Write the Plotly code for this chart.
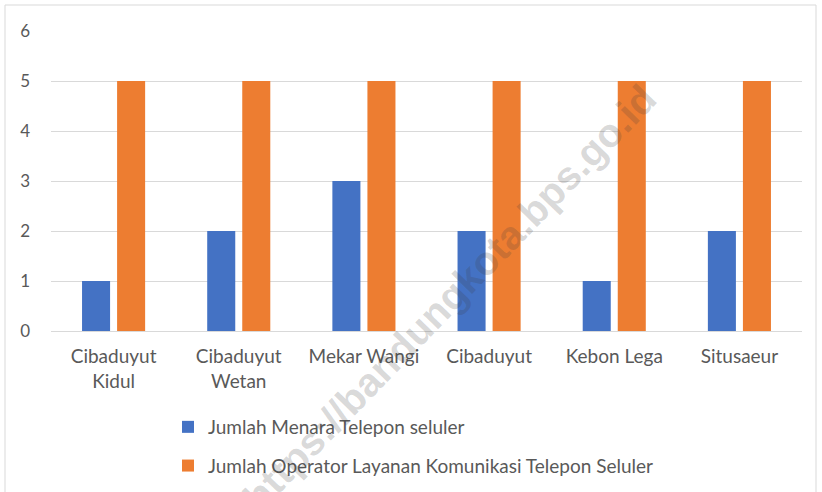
import plotly.graph_objects as go

categories = ["Cibaduyut<br>Kidul", "Cibaduyut<br>Wetan", "Mekar Wangi", "Cibaduyut", "Kebon Lega", "Situsaeur"]
menara = [1, 2, 3, 2, 1, 2]
operator = [5, 5, 5, 5, 5, 5]
series_names = ["Jumlah Menara Telepon seluler", "Jumlah Operator Layanan Komunikasi Telepon Seluler"]
y_ticks = [0, 1, 2, 3, 4, 5, 6]

FONT = "Lato"
TXT = "#595959"

fig = go.Figure()
fig.add_trace(go.Bar(x=categories, y=menara, name=series_names[0], legendgroup="a",
                     marker=dict(color="#4472C4", line=dict(width=0))))
fig.add_trace(go.Bar(x=categories, y=operator, name=series_names[1], legendgroup="b",
                     marker=dict(color="#ED7D31", line=dict(width=0))))

fig.update_layout(
    width=822, height=492,
    margin=dict(l=51, r=20, t=31, b=161, autoexpand=False),
    paper_bgcolor="white", plot_bgcolor="white",
    barmode="group", bargap=0.44, bargroupgap=0.2,
    font=dict(family=FONT, size=16, color=TXT),
    showlegend=True,
    legend=dict(orientation="v", xref="container", yref="container",
                x=168 / 822, xanchor="left", y=1 - 408 / 492, yanchor="top",
                font=dict(family=FONT, size=19, color=TXT), tracegroupgap=11,
                bgcolor="rgba(0,0,0,0)"),
    xaxis=dict(showgrid=False, showline=True, linecolor="#d9d9d9", linewidth=1,
               tickfont=dict(family=FONT, size=19, color=TXT), ticks="", ticklabelstandoff=8,
               fixedrange=True),
    yaxis=dict(range=[0, 6], tickvals=y_ticks, showgrid=True, gridcolor="#d9d9d9", gridwidth=1,
               zeroline=False, showline=False, ticks="", ticklabelstandoff=20,
               tickfont=dict(family=FONT, size=17, color=TXT), fixedrange=True),
    shapes=[dict(type="rect", xref="paper", yref="paper",
                 x0=(5 - 51) / 751, x1=(816 - 51) / 751, y0=(331 - 494) / 300, y1=(331 - 5) / 300,
                 line=dict(color="#d9d9d9", width=1), fillcolor="rgba(0,0,0,0)", layer="below")],
    annotations=[dict(text="https://bandungkota.bps.go.id", xref="paper", yref="paper",
                      x=(449 - 51) / 751, y=(331 - 298) / 300, xanchor="center", yanchor="middle",
                      showarrow=False, textangle=-46,
                      font=dict(family="Liberation Sans", size=40, color="rgba(60,60,60,0.2)", weight="bold"))],
)

fig.write_html("out.html", config={"displayModeBar": False},
               post_script="document.body.style.margin='0';document.body.style.overflow='hidden';")
